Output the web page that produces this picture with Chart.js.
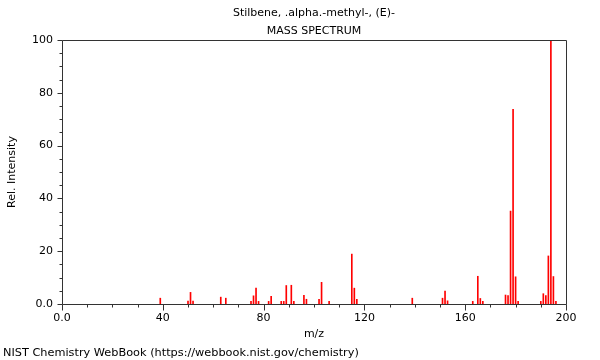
<!DOCTYPE html>
<html>
<head>
<meta charset="utf-8">
<script src="https://cdn.jsdelivr.net/npm/chart.js@4/dist/chart.umd.min.js"></script>
<style>
html,body{margin:0;padding:0;background:#fff;}
#wrap{width:600px;height:360px;position:relative;}
</style>
</head>
<body>
<div id="wrap"><canvas id="c" width="600" height="360"></canvas></div>
<script>
const titleText = "Stilbene, .alpha.-methyl-, (E)-";
const subtitleText = "MASS SPECTRUM";
const footerText = "NIST Chemistry WebBook (https://webbook.nist.gov/chemistry)";
const xLabel = "m/z";
const yLabel = "Rel. Intensity";

const mz = [39, 50, 51, 52, 63, 65, 75, 76, 77, 78, 82, 83, 87, 88, 89, 91, 92, 96, 97, 102, 103, 106,
  115, 116, 117, 139, 151, 152, 153, 163, 165, 166, 167, 176, 177, 178, 179, 180, 181,
  190, 191, 192, 193, 194, 195, 196];
const intensity = [2.2, 1.1, 4.4, 1.1, 2.6, 2.2, 1.0, 3.1, 6.0, 1.0, 1.0, 2.9, 1.0, 1.0, 7.0, 7.1, 1.0, 3.3, 1.8, 1.8, 8.2, 1.0,
  18.9, 6.0, 1.8, 2.2, 2.2, 4.9, 1.2, 1.0, 10.5, 2.1, 1.0, 3.4, 3.2, 35.2, 73.7, 10.3, 1.0,
  1.0, 3.9, 3.2, 18.2, 100, 10.4, 1.0];

const xTicks = [0, 40, 80, 120, 160, 200];
const yTicks = [0, 20, 40, 60, 80, 100];
const xMinorStep = 10;
const yMinorStep = 5;

const FONT = "'DejaVu Sans', sans-serif";

const points = mz.map((m, i) => ({x: m, y: intensity[i]}));

const fmt = v => (v === 0 ? '0.0' : String(v));

const framePlugin = {
  id: 'frame',
  afterDraw(chart) {
    const ctx = chart.ctx;
    const a = chart.chartArea;
    const xs = chart.scales.x, ys = chart.scales.y;
    ctx.save();
    ctx.strokeStyle = '#333';
    ctx.lineWidth = 1;
    const L = Math.round(a.left) + 0.5, R = Math.round(a.right) + 0.5;
    const T = Math.round(a.top) + 0.5, B = Math.round(a.bottom) + 0.5;
    ctx.beginPath();
    ctx.moveTo(L, T); ctx.lineTo(R, T); ctx.lineTo(R, B); ctx.lineTo(L, B); ctx.closePath();
    ctx.stroke();
    ctx.beginPath();
    for (let v = xs.min; v <= xs.max + 1e-9; v += xMinorStep) {
      const px = Math.round(xs.getPixelForValue(v)) + 0.5;
      const len = xTicks.includes(v) ? 6 : 3;
      ctx.moveTo(px, B); ctx.lineTo(px, B + len);
    }
    for (let v = ys.min; v <= ys.max + 1e-9; v += yMinorStep) {
      const py = Math.round(ys.getPixelForValue(v)) + 0.5;
      const len = yTicks.includes(v) ? 5 : 3;
      ctx.moveTo(L, py); ctx.lineTo(L - len, py);
    }
    ctx.stroke();
    ctx.fillStyle = '#000';
    ctx.font = "11.3px " + FONT;
    ctx.textBaseline = 'middle';
    ctx.textAlign = 'left';
    ctx.fillText(footerText, 3, 353);
    ctx.restore();
  }
};

new Chart(document.getElementById('c'), {
  type: 'bar',
  data: {
    datasets: [{
      data: points,
      backgroundColor: 'rgb(255,0,0)',
      borderWidth: 0,
      barThickness: 1
    }]
  },
  options: {
    responsive: false,
    animation: false,
    devicePixelRatio: 1,
    layout: {padding: {left: 0, right: 34, top: 0, bottom: 19}},
    plugins: {
      legend: {display: false},
      tooltip: {enabled: false},
      title: {
        display: true, text: titleText, color: '#000', fullSize: false,
        font: {family: FONT, size: 11, weight: 'normal'},
        padding: {top: 7, bottom: 0}
      },
      subtitle: {
        display: true, text: subtitleText, color: '#000', fullSize: false,
        font: {family: FONT, size: 11, weight: 'normal'},
        padding: {top: 4, bottom: 2.6}
      }
    },
    scales: {
      x: {
        type: 'linear', min: 0, max: 200, offset: false,
        grid: {display: false, drawTicks: false},
        border: {display: false},
        afterBuildTicks: s => { s.ticks = xTicks.map(v => ({value: v})); },
        afterFit: s => { s.height = 37; },
        ticks: {
          color: '#000', font: {family: FONT, size: 11}, padding: 8,
          maxRotation: 0, autoSkip: false, callback: v => fmt(v)
        },
        title: {
          display: true, text: xLabel, color: '#000',
          font: {family: FONT, size: 11}, padding: {top: 2, bottom: 0}
        }
      },
      y: {
        type: 'linear', min: 0, max: 100,
        grid: {display: false, drawTicks: false},
        border: {display: false},
        afterBuildTicks: s => { s.ticks = yTicks.map(v => ({value: v})); },
        afterFit: s => { s.width = 62; },
        ticks: {
          color: '#000', font: {family: FONT, size: 11}, padding: 9,
          autoSkip: false, callback: v => fmt(v)
        },
        title: {
          display: true, text: yLabel, color: '#000',
          font: {family: FONT, size: 11}, padding: {top: 6, bottom: 0}
        }
      }
    }
  },
  plugins: [framePlugin]
});
</script>
</body>
</html>
